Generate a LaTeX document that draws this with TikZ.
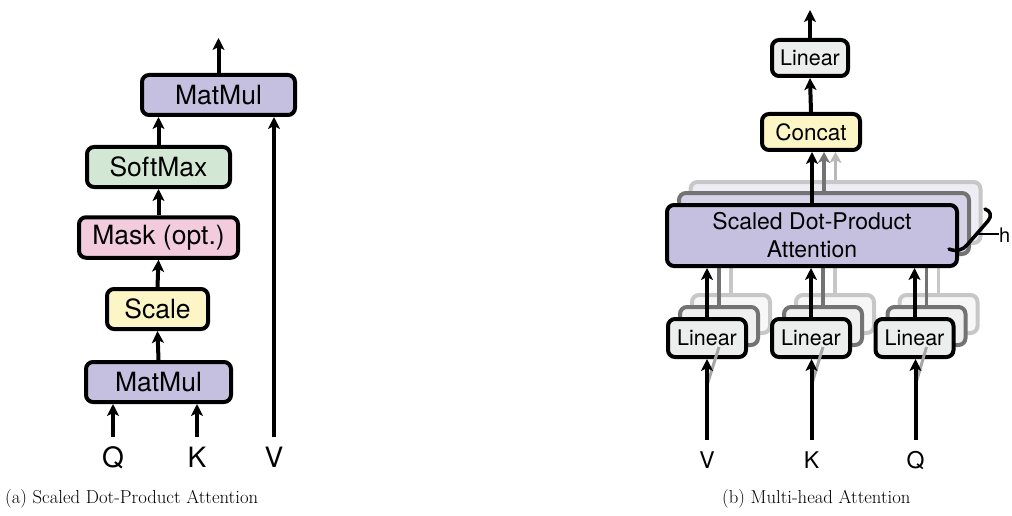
\documentclass[tikz,border=0pt]{standalone}
\usepackage{fontspec}
\newfontfamily\hv{TeX Gyre Heros}
\usetikzlibrary{arrows.meta}
\definecolor{cpurple}{RGB}{197,192,223}
\definecolor{cgreen}{RGB}{211,232,212}
\definecolor{cpink}{RGB}{242,204,221}
\definecolor{cyellow}{RGB}{252,246,198}
\definecolor{cgray}{RGB}{236,238,238}
\definecolor{shpurpleA}{RGB}{214,210,232}
\definecolor{shpurpleB}{RGB}{238,237,245}
\definecolor{shgrayA}{RGB}{240,240,240}
\definecolor{shgrayB}{RGB}{247,247,247}
\tikzset{
  box/.style={draw=black, line width=4pt, rounded corners=7pt, inner sep=0pt, align=center},
  lbox/.style={box, font=\fontsize{26.5}{29}\selectfont\hv},
  rbox/.style={box, font=\fontsize{21.5}{27}\selectfont\hv},
  shA/.style={draw=black!55, line width=4pt, rounded corners=7pt, inner sep=0pt},
  shB/.style={draw=black!22, line width=4pt, rounded corners=7pt, inner sep=0pt},
  arr/.style={line width=4pt, -{Stealth[length=12pt,width=12pt,inset=3pt]}},
  garrA/.style={line width=3.5pt, draw=black!55, -{Stealth[length=11pt,width=12pt,inset=3pt]}},
  garrB/.style={line width=3.5pt, draw=black!28, -{Stealth[length=11pt,width=12pt,inset=3pt]}},
  shlineA/.style={line width=3.5pt, draw=black!55},
  shlineB/.style={line width=3.5pt, draw=black!22},
  lletter/.style={inner sep=0pt, outer sep=9.5pt, font=\fontsize{28}{30}\selectfont\hv, anchor=base},
  rletter/.style={inner sep=0pt, outer sep=11pt, font=\fontsize{23}{26}\selectfont\hv, anchor=base},
  caption/.style={inner sep=0pt, anchor=base west, font=\fontsize{18.7}{22}\selectfont}
}
\begin{document}
\begin{tikzpicture}[x=1pt,y=-1pt]
\useasboundingbox (0,0) rectangle (1012,516);

% ---------------- (a) Scaled Dot-Product Attention ----------------
\node[lbox, fill=cpurple, minimum width=153pt, minimum height=40pt] (mm2) at (218.5,95) {MatMul};
\node[lbox, fill=cgreen, minimum width=143pt, minimum height=40pt] (sm) at (158.5,167) {SoftMax};
\node[lbox, fill=cpink, minimum width=159pt, minimum height=40.5pt] (mask) at (158.5,237.5) {Mask (opt.)};
\node[lbox, fill=cyellow, minimum width=101pt, minimum height=40pt] (scale) at (157.5,309) {Scale};
\node[lbox, fill=cpurple, minimum width=145pt, minimum height=40pt] (mm1) at (158.5,382) {MatMul};

\node[lletter] (Q) at (113,467) {Q};
\node[lletter] (K) at (197,467) {K};
\node[lletter] (V) at (274,467) {V};
\coordinate (aout) at (218.5,38);

\draw[arr] (Q.north) -- (Q.north |- mm1.south);
\draw[arr] (K.north) -- (K.north |- mm1.south);
\draw[arr] (V.north) -- (V.north |- mm2.south);
\draw[arr] (mm1.north) -- (scale.south);
\draw[arr] (scale.north) -- (mask.south);
\draw[arr] (mask.north) -- (sm.south);
\draw[arr] (sm.north) -- (sm.north |- mm2.south);
\draw[arr] (mm2.north) -- (aout);

% ---------------- (b) Multi-head Attention ----------------
% shadow heads (back to front)
\node[shB, fill=shpurpleB, minimum width=290pt, minimum height=61pt] (sdpaC) at (835.5,212.5) {};
\node[shA, fill=shpurpleA, minimum width=290pt, minimum height=61pt] (sdpaB) at (824,223.5) {};

\foreach \n/\x in {1/707,2/811,3/914.5}{
  \node[shB, fill=shgrayB, minimum width=78pt, minimum height=38pt] (L\n c) at (\x+24,314) {};
}
\foreach \n/\x in {1/707,2/811,3/914.5}{
  \node[shA, fill=shgrayA, minimum width=78pt, minimum height=38pt] (L\n b) at (\x+12,326) {};
}
\foreach \n in {1,2,3}{
  \draw[shlineB] (L\n c.north) -- (L\n c.north |- sdpaC.south);
  \draw[shlineA] (L\n b.north) -- (L\n b.north |- sdpaB.south);
}

\node[rbox, fill=cpurple, minimum width=290pt, minimum height=61pt, font=\fontsize{23}{28}\selectfont\hv] (sdpa) at (812,235.5) {Scaled Dot-Product\\Attention};

\node[rbox, fill=cgray, minimum width=78pt, minimum height=38pt] (L1) at (707,338) {Linear};
\node[rbox, fill=cgray, minimum width=78pt, minimum height=38pt] (L2) at (811,338) {Linear};
\node[rbox, fill=cgray, minimum width=78pt, minimum height=38pt] (L3) at (914.5,338) {Linear};

\node[rbox, fill=cyellow, minimum width=98pt, minimum height=36pt, font=\fontsize{22.5}{27}\selectfont\hv] (concat) at (811,132) {Concat};
\node[rbox, fill=cgray, minimum width=76pt, minimum height=36pt] (lout) at (810,58) {Linear};
\coordinate (bout) at (810,10);

\node[rletter] (bV) at (707,468) {V};
\node[rletter] (bK) at (811.5,468) {K};
\node[rletter] (bQ) at (915.5,468) {Q};

% faint fan-out from inputs to shadow heads
\foreach \n/\v in {1/bV,2/bK,3/bQ}{
  \draw[line width=3pt, draw=black!35] ([yshift=55pt]\v.north) -- (L\n b.south);
}

\draw[arr] (bV.north) -- (bV.north |- L1.south);
\draw[arr] (bK.north) -- (bK.north |- L2.south);
\draw[arr] (bQ.north) -- (bQ.north |- L3.south);
\draw[arr] (L1.north) -- (L1.north |- sdpa.south);
\draw[arr] (L2.north) -- (L2.north |- sdpa.south);
\draw[arr] (L3.north) -- (L3.north |- sdpa.south);

\draw[garrB] (sdpaC.north) -- (sdpaC.north |- concat.south);
\draw[garrA] (sdpaB.north) -- (sdpaB.north |- concat.south);
\draw[arr] (sdpa.north) -- (sdpa.north |- concat.south);
\draw[arr] (concat.north) -- (lout.south);
\draw[arr] (lout.north) -- (bout);

% brace and h
\draw[line width=3.5pt, line cap=round, line join=round]
  (985,209) .. controls (991,211) and (992,216) .. (988,221)
  -- (967,245) .. controls (963,250) and (956,252) .. (949,249);
\coordinate (brTip) at (977,234);
\node[inner sep=0pt, anchor=base west, font=\fontsize{20}{24}\selectfont\hv] (hlab) at (999,242) {h};
\draw[line width=1.8pt] (brTip) -- (hlab.west |- brTip);

% captions
\node[caption] (capa) at (5,503) {(a) Scaled Dot-Product Attention};
\node[caption] (capb) at (722,503) {(b) Multi-head Attention};
\end{tikzpicture}
\end{document}
